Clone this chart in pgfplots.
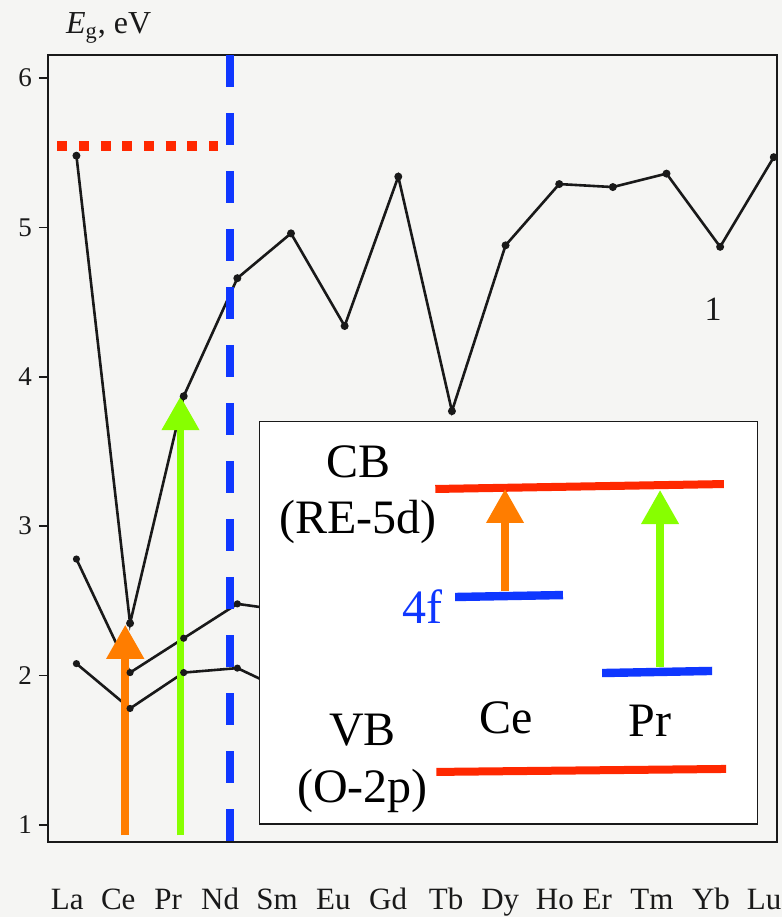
\documentclass[border=0pt]{standalone}
\usepackage{fontspec}
\setmainfont{Liberation Serif}
\usepackage{pgfplots}
\usepackage{pgfplotstable}
\pgfplotsset{compat=1.18}
\usetikzlibrary{arrows.meta}
\definecolor{paper}{RGB}{245,245,243}
\definecolor{ink}{RGB}{25,25,25}
\definecolor{cbred}{RGB}{255,40,0}
\definecolor{lvblue}{RGB}{15,55,255}
\definecolor{arrorange}{RGB}{255,125,0}
\definecolor{arrgreen}{RGB}{135,255,0}

\pgfplotstableread{
x y
0 5.48
1 2.35
2 3.87
3 4.66
4 4.96
5 4.34
6 5.34
7 3.77
8 4.88
9 5.29
10 5.27
11 5.36
12 4.87
13 5.47
}\curveA
\pgfplotstableread{
x y
0 2.78
1 2.02
2 2.25
3 2.48
4 2.43
}\curveB
\pgfplotstableread{
x y
0 2.08
1 1.78
2 2.02
3 2.05
4 1.88
}\curveC

\begin{document}
\begin{tikzpicture}
\fill[paper] (-24pt,-37.5pt) rectangle (367pt,421pt);
\path[use as bounding box] (-24pt,-37.5pt) rectangle (367pt,421pt);
\begin{axis}[
  at={(0,0)}, anchor=south west,
  scale only axis, width=364.5pt, height=393.5pt,
  xmin=-0.53, xmax=13.06, ymin=0.886, ymax=6.154,
  clip=false,
  axis line style={ink, line width=0.8pt},
  tick align=outside, tick pos=left,
  xtick={-0.17,0.78,1.71,2.68,3.74,4.79,5.81,6.89,7.90,8.92,9.71,10.73,11.83,12.82},
  xticklabels={La,Ce,Pr,Nd,Sm,Eu,Gd,Tb,Dy,Ho,Er,Tm,Yb,Lu},
  xtick style={draw=none},
  ytick={1,...,6},
  ytick style={ink, line width=0.8pt},
  major tick length=4.5pt,
  /pgf/number format/assume math mode=true,
  yticklabel style={font=\fontsize{13.5}{15}\selectfont, text=ink},
  xticklabel style={font=\fontsize{15.5}{17}\selectfont, text=ink, anchor=base, yshift=-29pt},
]
\addplot[ink, line width=1.3pt, mark=*, mark size=1.3pt] table {\curveA};
\addplot[ink, line width=1.3pt, mark=*, mark size=1.1pt, mark indices={1,2,3,4}] table {\curveB};
\addplot[ink, line width=1.3pt, mark=*, mark size=1.1pt, mark indices={1,2,3,4}] table {\curveC};

% inset energy diagram
\draw[ink, line width=0.8pt, fill=white] (axis cs:3.41,1.007) rectangle (axis cs:12.70,3.70);
\draw[cbred, line width=4pt] (axis cs:6.69,3.249) -- (axis cs:12.07,3.282);
\draw[cbred, line width=4pt] (axis cs:6.71,1.355) -- (axis cs:12.11,1.375);
\draw[lvblue, line width=4.2pt] (axis cs:7.06,2.526) -- (axis cs:9.07,2.539);
\draw[lvblue, line width=4.2pt] (axis cs:9.80,2.017) -- (axis cs:11.85,2.031);
\draw[arrorange, line width=3.6pt, -{Triangle[width=18pt,length=17pt]}] (axis cs:7.99,2.566) -- (axis cs:7.99,3.249);
\draw[arrgreen, line width=3.6pt, -{Triangle[width=18pt,length=17pt]}] (axis cs:10.88,2.058) -- (axis cs:10.88,3.242);
\node[font=\fontsize{24}{26}\selectfont] at (axis cs:5.26,3.43) {CB};
\node[font=\fontsize{24}{26}\selectfont] at (axis cs:5.25,3.03) {(RE-5d)};
\node[font=\fontsize{24}{26}\selectfont] at (axis cs:5.33,1.636) {VB};
\node[font=\fontsize{24}{26}\selectfont] at (axis cs:5.33,1.228) {(O-2p)};
\node[font=\fontsize{24}{26}\selectfont] at (axis cs:8.01,1.716) {Ce};
\node[font=\fontsize{24}{26}\selectfont] at (axis cs:10.69,1.70) {Pr};
\node[font=\fontsize{24}{26}\selectfont, text=lvblue] at (axis cs:6.46,2.46) {4f};

% main annotations
\draw[cbred, line width=5pt, dash pattern=on 5pt off 5.85pt] (axis cs:-0.36,5.545) -- (axis cs:2.64,5.545);
\draw[arrorange, line width=3.75pt, -{Triangle[width=18pt,length=17pt]}] (axis cs:0.91,0.93) -- (axis cs:0.91,2.34);
\draw[arrgreen, line width=3.75pt, -{Triangle[width=18pt,length=17pt]}] (axis cs:1.94,0.93) -- (axis cs:1.94,3.87);
\draw[lvblue, line width=3.75pt, dash pattern=on 16pt off 13pt] (axis cs:2.865,6.154) -- (axis cs:2.865,0.866);

\node[font=\fontsize{17}{19}\selectfont, text=ink] at (axis cs:11.87,4.45) {1};
\node[anchor=base west, inner sep=0pt, font=\fontsize{16}{18}\selectfont, text=ink] at (axis cs:-0.20,6.30) {\textit{E}\textsubscript{g}, eV};
\end{axis}
\end{tikzpicture}
\end{document}
